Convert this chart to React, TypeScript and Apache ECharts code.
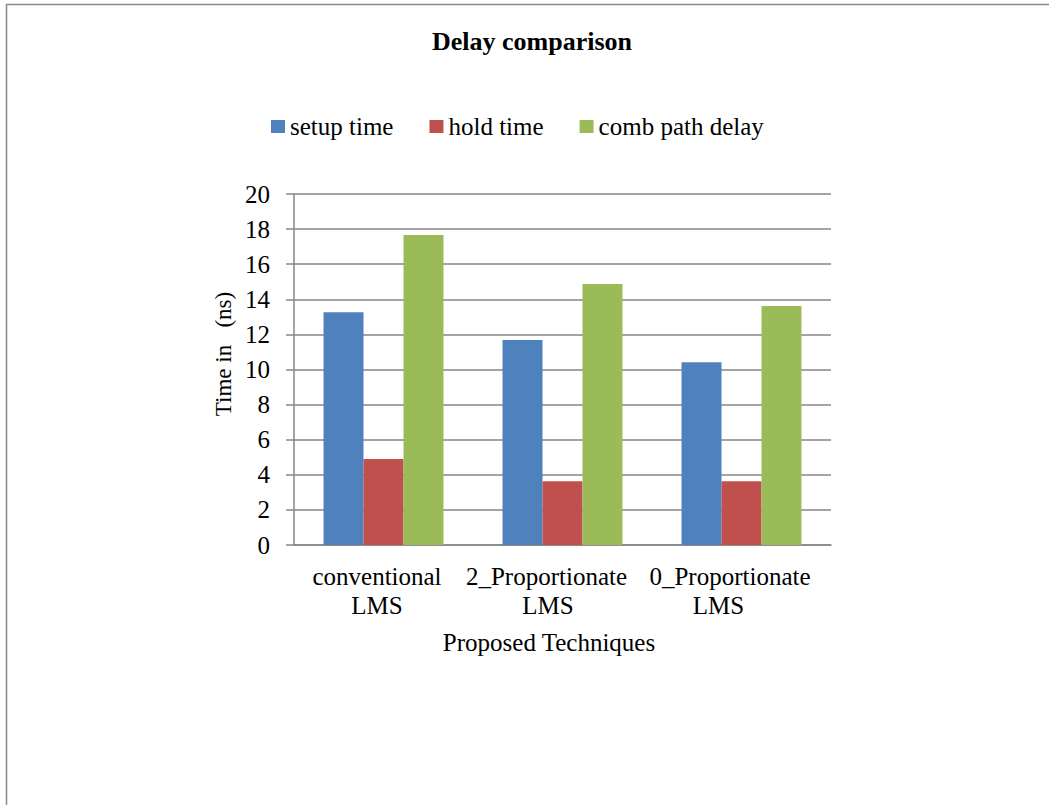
import React, { useEffect, useRef } from "react";
import * as echarts from "echarts";

const categories = ["conventional\nLMS", "2_Proportionate\nLMS", "0_Proportionate\nLMS"];
const seriesNames = ["setup time", "hold time", "comb path delay"];
const setupTime = [13.26, 11.68, 10.42];
const holdTime = [4.9, 3.63, 3.63];
const combPathDelay = [17.66, 14.87, 13.62];
const yTicks = { min: 0, max: 20, interval: 2 };
const colors = ["#4F81BD", "#C0504D", "#9BBB59"];
const titleText = "Delay comparison";
const yTitle = "Time in   (ns)";
const xTitle = "Proposed Techniques";

// per-category, per-line right padding to mimic label offsets
const labelPads = [
  [13, 13],
  [32, 29],
  [23, 46],
];

const FONT = "'Liberation Serif', 'Times New Roman', serif";

export default function App() {
  const ref = useRef<HTMLDivElement>(null);
  useEffect(() => {
    document.body.style.margin = "0";
    const chart = echarts.init(ref.current!, null, { renderer: "svg" });
    const rich: any = {};
    labelPads.forEach((pads, i) =>
      pads.forEach((p, j) => {
        rich[`s${i}_${j}`] = {
          fontFamily: FONT,
          fontSize: 25,
          color: "#000",
          lineHeight: 29,
          align: "center",
          padding: [0, p, 0, 0],
        };
      })
    );
    const data = [setupTime, holdTime, combPathDelay];
    chart.setOption({
      animation: false,
      backgroundColor: "#fff",
      textStyle: { fontFamily: FONT },
      grid: { left: 294, top: 194, right: 218, bottom: 260, containLabel: false },
      legend: {
        left: 271,
        top: 114,
        padding: 0,
        itemWidth: 14,
        itemHeight: 13,
        itemGap: 36,
        icon: "rect",
        textStyle: { fontFamily: FONT, fontSize: 25, color: "#000" },
        data: seriesNames,
      },
      xAxis: {
        type: "category",
        data: categories,
        axisLine: { show: true, lineStyle: { color: "#868686", width: 1.5 } },
        axisTick: { show: false },
        axisLabel: {
          interval: 0,
          margin: 17,
          formatter: (v: string, idx: number) =>
            v
              .split("\n")
              .map((l, j) => `{s${idx}_${j}|${l}}`)
              .join("\n"),
          rich,
        },
      },
      yAxis: {
        type: "value",
        min: yTicks.min,
        max: yTicks.max,
        interval: yTicks.interval,
        axisLine: { show: true, lineStyle: { color: "#868686", width: 1.5 } },
        axisTick: { show: true, length: 8, lineStyle: { color: "#868686", width: 1.5 } },
        splitLine: { show: true, lineStyle: { color: "#868686", width: 1.5 } },
        axisLabel: { margin: 24, fontFamily: FONT, fontSize: 25, color: "#000" },
      },
      series: seriesNames.map((name, i) => ({
        name,
        type: "bar",
        data: data[i],
        itemStyle: { color: colors[i] },
        barGap: "0%",
        barCategoryGap: "33%",
      })),
      graphic: [
        {
          type: "rect",
          shape: { x: 6.5, y: 4.5, width: 3000, height: 3000 },
          style: { fill: "none", stroke: "#898989", lineWidth: 1.5 },
          silent: true,
        },
        {
          type: "text",
          x: 532,
          y: 41,
          style: {
            text: titleText,
            font: `bold 26px ${FONT}`,
            fill: "#000",
            align: "center",
            verticalAlign: "middle",
          },
        },
        {
          type: "text",
          x: 223,
          y: 354,
          rotation: Math.PI / 2,
          style: {
            text: yTitle,
            font: `23px ${FONT}`,
            fill: "#000",
            align: "center",
            verticalAlign: "middle",
          },
        },
        {
          type: "text",
          x: 549,
          y: 642,
          style: {
            text: xTitle,
            font: `25px ${FONT}`,
            fill: "#000",
            align: "center",
            verticalAlign: "middle",
          },
        },
      ],
    });
    return () => chart.dispose();
  }, []);
  return <div ref={ref} style={{ width: 1049, height: 805 }} />;
}
